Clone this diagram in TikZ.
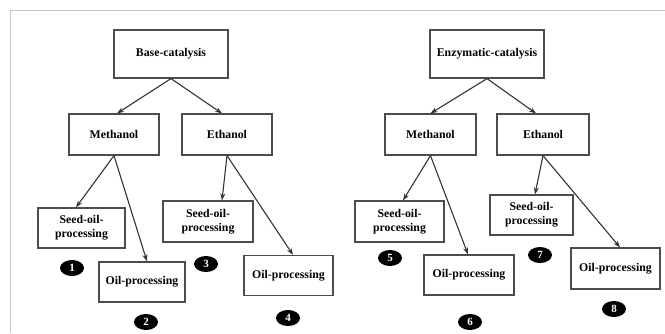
\documentclass[tikz,border=0pt]{standalone}
\usepackage{fontspec}
\setmainfont{Liberation Serif}
\usetikzlibrary{shapes.geometric,arrows.meta}
\begin{document}
\begin{tikzpicture}[x=1pt,y=-1pt]
    % --- styles ---
    \tikzset{stagebox/.style={draw=black!70,line width=1.2pt,fill=white,align=center,inner sep=1pt,
        font=\fontsize{11.8}{14}\selectfont\bfseries},
      link/.style={draw=black!80,line width=1.1pt,-{Stealth[length=7pt,width=5pt]}},
      badge/.style={ellipse,fill=black,text=white,inner sep=0pt,minimum width=24pt,minimum height=16pt,
        font=\fontsize{11}{12}\selectfont\bfseries}}

    % page frame (thin grey rule top and left)
    \useasboundingbox (0,0) rectangle (665,333);
    \draw[black!22,line width=0.8pt] (10,333) -- (10,10) -- (665,10);

    % base-catalysis tree
    \node[stagebox,minimum width=114,minimum height=48] (bc) at (171,54) {Base-catalysis};
    \node[stagebox,minimum width=90,minimum height=41] (bm) at (114,134.5) {Methanol};
    \node[stagebox,minimum width=90,minimum height=41] (be) at (227,134.5) {Ethanol};
    \node[stagebox,minimum width=87,minimum height=40] (bs1) at (81.5,228) {Seed-oil-\\processing};
    \node[stagebox,minimum width=86,minimum height=40] (bo2) at (142,282) {Oil-processing};
    \node[stagebox,minimum width=90,minimum height=41] (bs3) at (208,221.5) {Seed-oil-\\processing};
    \node[stagebox,minimum width=89,minimum height=40] (bo4) at (288.5,275.5) {Oil-processing};

    \draw[link] (bc.south) -- ([xshift=3]bm.north);
    \draw[link] (bc.south) -- ([xshift=-5]be.north);
    \draw[link] (bm.south) -- ([xshift=-5.5]bs1.north);
    \draw[link] (bm.south) -- ([xshift=5]bo2.north);
    \draw[link] (be.south) -- ([xshift=14]bs3.north);
    \draw[link] (be.south) -- ([xshift=4.5]bo4.north);

    % enzymatic-catalysis tree
    \node[stagebox,minimum width=114,minimum height=48] (ec) at (487,54) {Enzymatic-catalysis};
    \node[stagebox,minimum width=91,minimum height=41] (em) at (430.5,134.5) {Methanol};
    \node[stagebox,minimum width=92,minimum height=41] (ee) at (543,134.5) {Ethanol};
    \node[stagebox,minimum width=89,minimum height=41] (es5) at (399.5,221.5) {Seed-oil-\\processing};
    \node[stagebox,minimum width=90,minimum height=40] (eo6) at (469,275) {Oil-processing};
    \node[stagebox,minimum width=83,minimum height=40] (es7) at (531.5,215) {Seed-oil-\\processing};
    \node[stagebox,minimum width=89,minimum height=41] (eo8) at (615.5,268.5) {Oil-processing};

    \draw[link] (ec.south) -- (em.north);
    \draw[link] (ec.south) -- ([xshift=-7]ee.north);
    \draw[link] (em.south) -- ([xshift=3.5]es5.north);
    \draw[link] (em.south) -- ([xshift=-1]eo6.north);
    \draw[link] (ee.south) -- ([xshift=3.5]es7.north);
    \draw[link] (ee.south) -- ([xshift=4.5]eo8.north);

    % numbered badges
    \foreach \k/\x/\y in {1/72/268,2/146/322,3/206/264,4/288/318,5/390/258,6/470/322,7/540/255,8/614/309}
      \node[badge] (n\k) at (\x,\y) {\k};
  \end{tikzpicture}
\end{document}
